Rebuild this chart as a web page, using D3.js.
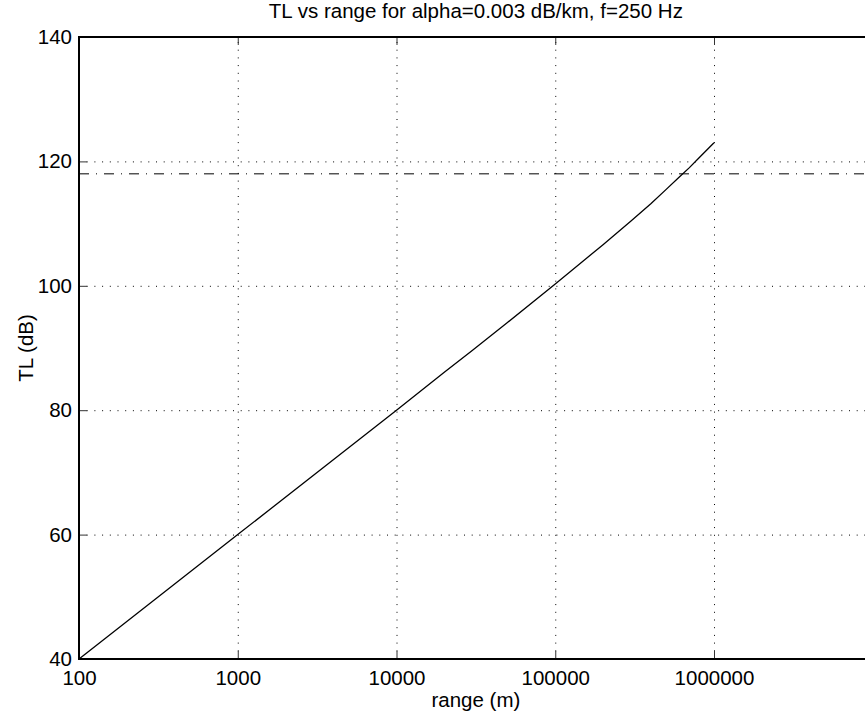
<!DOCTYPE html>
<html>
<head>
<meta charset="utf-8">
<script src="https://cdn.jsdelivr.net/npm/d3@7"></script>
<style>
  body { margin: 0; background: #fff; }
  svg { display: block; font-family: "Liberation Sans", Arial, sans-serif; }
  .grid line { stroke: #000; stroke-width: 1; stroke-dasharray: 1, 6.7; }
  .grid path { display: none; }
  .tk line { stroke: #333; stroke-width: 1; }
  .tk path { display: none; }
  .tk text { font-size: 20.5px; fill: #000; font-family: "Liberation Sans", Arial, sans-serif; }
</style>
</head>
<body>
<div id="chart"></div>
<script>
var width = 865;
var height = 717;

// values
var rangeM = [100, 1000, 10000, 20000, 30000, 50000, 100000, 150000, 200000,
              300000, 400000, 500000, 600000, 700000, 800000, 1000000];
var tlDb = [40, 60, 80, 86.1, 89.6, 94.1, 100.3, 104.0, 106.6,
            110.4, 113.2, 115.5, 117.4, 119.0, 120.5, 123.0];
var thresholdDb = 118;

var xTicks = [100, 1000, 10000, 100000, 1000000];
var xTickLabels = ["100", "1000", "10000", "100000", "1000000"];
var yTicks = [40, 60, 80, 100, 120, 140];

var plotLeft = 79, plotRight = 872.75, plotTop = 37, plotBottom = 659;

var x = d3.scaleLog().domain([100, 10000000]).range([plotLeft, plotRight]);
var y = d3.scaleLinear().domain([40, 140]).range([plotBottom, plotTop]);

var svg = d3.select("#chart").append("svg")
  .attr("width", width)
  .attr("height", height);

// dotted grid
svg.append("g")
  .attr("class", "grid")
  .attr("transform", "translate(0," + plotBottom + ")")
  .call(d3.axisBottom(x).tickValues(xTicks.slice(1)).tickSize(-(plotBottom - plotTop)).tickFormat(""));
svg.append("g")
  .attr("class", "grid")
  .attr("transform", "translate(" + plotLeft + ",0)")
  .call(d3.axisLeft(y).tickValues(yTicks.slice(1, -1)).tickSize(-(plotRight - plotLeft)).tickFormat(""));

// inward ticks on all four sides
svg.append("g")
  .attr("class", "tk")
  .attr("transform", "translate(0," + plotBottom + ")")
  .call(d3.axisBottom(x).tickValues(xTicks).tickSize(-8).tickPadding(11)
    .tickFormat(function (d, i) { return xTickLabels[i]; }));
svg.append("g")
  .attr("class", "tk")
  .attr("transform", "translate(0," + plotTop + ")")
  .call(d3.axisTop(x).tickValues(xTicks).tickSize(-8).tickFormat(""));
svg.append("g")
  .attr("class", "tk")
  .attr("transform", "translate(" + plotLeft + ",0)")
  .call(d3.axisLeft(y).tickValues(yTicks).tickSize(-8).tickPadding(7));
svg.append("g")
  .attr("class", "tk")
  .attr("transform", "translate(" + plotRight + ",0)")
  .call(d3.axisRight(y).tickValues(yTicks).tickSize(-8).tickFormat(""));

// threshold line
svg.append("line")
  .attr("x1", plotLeft).attr("x2", plotRight)
  .attr("y1", y(thresholdDb)).attr("y2", y(thresholdDb))
  .attr("stroke", "#000")
  .attr("stroke-width", 1)
  .attr("stroke-dasharray", "10,7,1,7");

// TL curve
var line = d3.line()
  .x(function (d, i) { return x(rangeM[i]); })
  .y(function (d) { return y(d); });

svg.append("path")
  .datum(tlDb)
  .attr("d", line)
  .attr("fill", "none")
  .attr("stroke", "#000")
  .attr("stroke-width", 1.3);

// frame
svg.append("rect")
  .attr("x", plotLeft).attr("y", plotTop)
  .attr("width", plotRight - plotLeft).attr("height", plotBottom - plotTop)
  .attr("fill", "none")
  .attr("stroke", "#000")
  .attr("stroke-width", 2);

// labels
svg.append("text")
  .attr("x", (plotLeft + plotRight) / 2).attr("y", 18)
  .attr("text-anchor", "middle")
  .style("font-size", "20.5px")
  .text("TL vs range for alpha=0.003 dB/km, f=250 Hz");

svg.append("text")
  .attr("x", (plotLeft + plotRight) / 2).attr("y", 707)
  .attr("text-anchor", "middle")
  .style("font-size", "20.5px")
  .text("range (m)");

svg.append("text")
  .attr("transform", "translate(33," + (plotTop + plotBottom) / 2 + ") rotate(-90)")
  .attr("text-anchor", "middle")
  .style("font-size", "20.5px")
  .text("TL (dB)");
</script>
</body>
</html>
